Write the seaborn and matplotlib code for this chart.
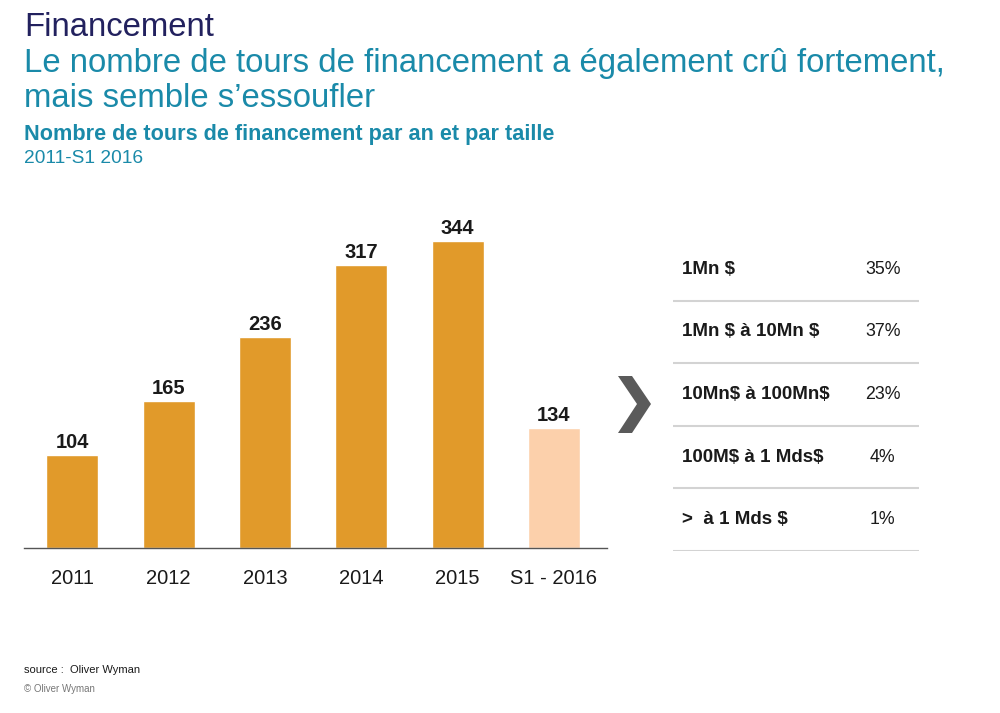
import matplotlib
matplotlib.use("Agg")
import matplotlib.pyplot as plt
import seaborn as sns
import pandas as pd
from matplotlib.patches import Polygon

# data
years = ["2011", "2012", "2013", "2014", "2015", "S1 - 2016"]
rounds = [104, 165, 236, 317, 344, 134]
bar_colors = ["#E19A2A", "#E19A2A", "#E19A2A", "#E19A2A", "#E19A2A", "#FCD0AB"]

size_labels = ["1Mn $", "1Mn $ à 10Mn $", "10Mn$ à 100Mn$", "100M$ à 1 Mds$", ">  à 1 Mds $"]
size_shares = ["35%", "37%", "23%", "4%", "1%"]

sns.set_theme(style="white")
plt.rcParams["font.family"] = ["Liberation Sans", "DejaVu Sans"]

navy = "#22215E"
teal = "#1A8AA9"
ink = "#1a1a1a"

fig = plt.figure(figsize=(10, 7.13), dpi=100)

# bar chart
ax = fig.add_axes([0.024, 0.2314, 0.583, 0.488])
df = pd.DataFrame({"year": years, "rounds": rounds})
sns.barplot(data=df, x="year", y="rounds", hue="year", palette=bar_colors,
            width=0.54, legend=False, ax=ax, saturation=1)
ax.set_xlim(-0.5, 5.55)
ax.set_ylim(0, 390)
for i, v in enumerate(rounds):
    ax.text(i, v + 8, str(v), ha="center", va="baseline", fontsize=14.5,
            fontweight="bold", color=ink)
sns.despine(ax=ax, left=True)
ax.spines["bottom"].set_color("#555555")
ax.spines["bottom"].set_linewidth(1)
ax.set_yticks([])
ax.set_xlabel("")
ax.set_ylabel("")
ax.tick_params(axis="x", length=0, pad=15, labelsize=14.5, labelcolor=ink)

# size table
ax2 = fig.add_axes([0.673, 0.2272, 0.246, 0.439])
ax2.set_xlim(0, 1)
ax2.set_ylim(len(size_labels), 0)
ax2.axis("off")
for i, (lab, share) in enumerate(zip(size_labels, size_shares)):
    ax2.text(0.035, i + 0.5, lab, ha="left", va="center", fontsize=13.5,
             fontweight="bold", color=ink, parse_math=False)
    ax2.text(0.853, i + 0.5, share, ha="center", va="center", fontsize=12.8,
             color=ink, parse_math=False)
    ax2.axhline(i + 1, color="#d3d3d3", linewidth=1.5)

# chevron
chev = [(618, 376), (632, 376), (651, 404), (632, 433), (618, 433), (637, 404)]
fig.patches.append(Polygon([(x / 1000, 1 - y / 713) for x, y in chev],
                           closed=True, transform=fig.transFigure,
                           facecolor="#5a5a5a", edgecolor="none"))

# titles
def top_text(y_px, s, **kw):
    fig.text(0.024, 1 - y_px / 713, s, va="baseline", **kw)

top_text(36, "Financement", fontsize=23.7, color=navy)
top_text(72, "Le nombre de tours de financement a également crû fortement,",
         fontsize=23.7, color=teal)
top_text(107, "mais semble s\u2019essoufler", fontsize=23.7, color=teal)
top_text(140, "Nombre de tours de financement par an et par taille",
         fontsize=15.6, color=teal, fontweight="bold")
top_text(163, "2011-S1 2016", fontsize=13.8, color=teal)

# footer
top_text(673, "source :  Oliver Wyman", fontsize=8, color=ink)
top_text(692, "\u00a9 Oliver Wyman", fontsize=7, color="#777777")

fig.savefig("out.png", dpi=100)
